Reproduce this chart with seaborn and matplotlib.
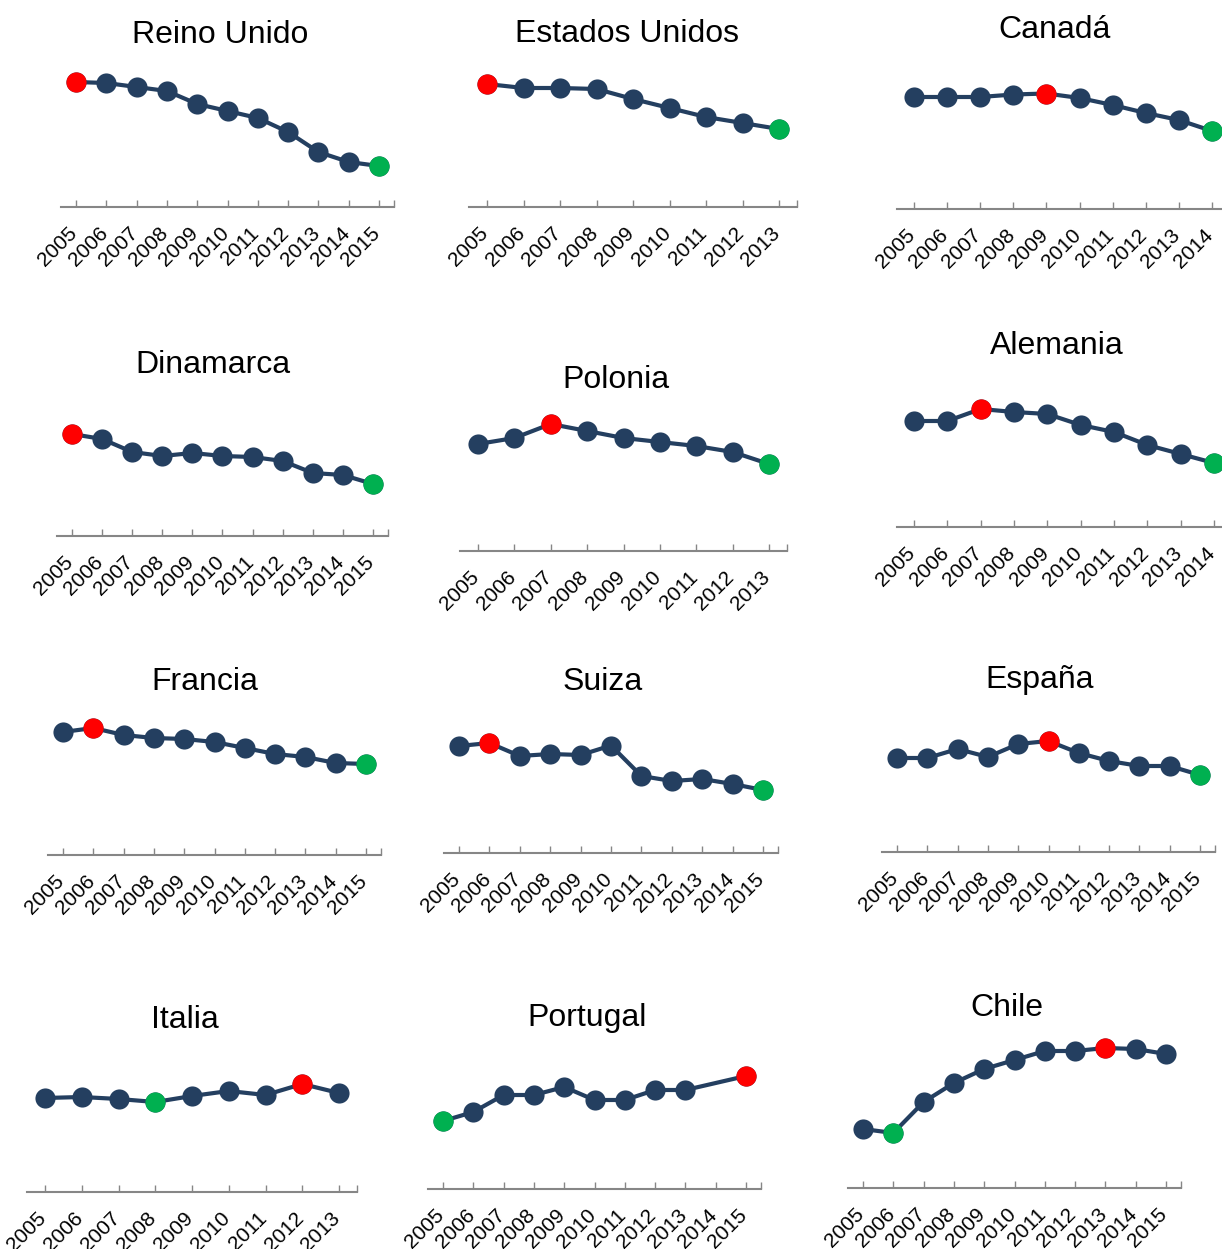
import numpy as np
import pandas as pd
import matplotlib.pyplot as plt
import matplotlib.transforms as mtransforms
import seaborn as sns

# country panels, values (relative index, same scale per panel)
countries = ["Reino Unido", "Estados Unidos", "Canadá",
             "Dinamarca", "Polonia", "Alemania",
             "Francia", "Suiza", "España",
             "Italia", "Portugal", "Chile"]

years_11 = [2005, 2006, 2007, 2008, 2009, 2010, 2011, 2012, 2013, 2014, 2015]
years_10 = years_11[:10]
years_9 = years_11[:9]
years_pt = [2005, 2006, 2007, 2008, 2009, 2010, 2011, 2012, 2013, 2015]

vals_uk = [125, 124, 120, 116, 103, 96, 89, 75, 55, 45, 41]
vals_us = [123, 119, 119, 118, 108, 99, 90, 84, 78]
vals_ca = [112, 112, 112, 114.5, 115.5, 111, 104, 96, 89, 78]
vals_dk = [102, 97, 84, 80, 83, 80, 79, 75, 63, 61, 52]
vals_pl = [107, 113, 127, 120, 113, 109, 105, 99, 87]
vals_de = [106, 106, 118, 115, 113, 102, 95, 82, 73, 64]
vals_fr = [123, 127, 120, 117, 116, 113, 107, 101, 98, 92, 91]
vals_ch = [107, 110, 97, 99, 98, 107.5, 77, 72, 74, 69, 63]
vals_es = [94, 94, 103, 95, 108, 111, 99, 91, 86, 86, 77]
vals_it = [94, 95, 93, 90, 96, 101, 97, 108, 99]
vals_pt = [68, 77, 94, 94, 102, 89, 89, 99, 99, 113]
vals_cl = [59, 55, 86, 105, 119, 128, 137, 137, 140, 139, 134]

data_years = [years_11, years_9, years_10, years_11, years_9, years_10,
              years_11, years_11, years_11, years_9, years_pt, years_11]
data_vals = [vals_uk, vals_us, vals_ca, vals_dk, vals_pl, vals_de,
             vals_fr, vals_ch, vals_es, vals_it, vals_pt, vals_cl]
tick_years = [years_11, years_9, years_10, years_11, years_9, years_10,
              years_11, years_11, years_11, years_9, years_11, years_11]

# panel layout in pixels: title x, title baseline y, first tick x, last tick x, axis y
layout = [
    (220, 43, 76, 379, 207), (627, 42, 487, 779, 207), (1055, 38, 914, 1212, 209),
    (213, 373, 72, 373, 536), (616, 388, 478, 769, 551), (1057, 354, 914, 1214, 527),
    (205, 690, 63, 366, 855), (603, 690, 459, 763, 853), (1040, 688, 897, 1200, 852),
    (185, 1028, 45, 339, 1192), (587, 1026, 443, 746, 1189), (1007, 1016, 863, 1166, 1188),
]

W, H = 1222, 1249
navy = "#243F60"
sns.set_style("white")
plt.rcParams["font.family"] = ["Liberation Sans", "DejaVu Sans"]
plt.rcParams["text.color"] = "black"

fig = plt.figure(figsize=(W / 100, H / 100), dpi=100)
ax_h = 170
# nudge rotated year labels a little to the right, like the original
label_shift = mtransforms.ScaledTranslation(5 / 100, 0, fig.dpi_scale_trans)

for name, yrs, vals, ticks, (tx, ty, x0, x1, ay) in zip(
        countries, data_years, data_vals, tick_years, layout):
    n = len(ticks)
    step = (x1 - x0) / (n - 1)
    left = x0 - step / 2
    ax = fig.add_axes([left / W, 1 - ay / H, n * step / W, ax_h / H])
    df = pd.DataFrame({"year": yrs, "value": vals})
    sns.lineplot(data=df, x="year", y="value", ax=ax, color=navy, linewidth=3,
                 marker="o", markersize=14.5, markeredgewidth=0, clip_on=False)
    hi = df.loc[df["value"].idxmax()]
    lo = df.loc[df["value"].idxmin()]
    ax.scatter([hi["year"]], [hi["value"]], s=14.5 ** 2, color="#FF0000",
               linewidths=0, zorder=5, clip_on=False)
    ax.scatter([lo["year"]], [lo["value"]], s=14.5 ** 2, color="#00B050",
               linewidths=0, zorder=5, clip_on=False)

    ax.set_xlim(ticks[0] - 0.5, ticks[-1] + 0.5)
    ax.set_ylim(0, ax_h)
    ax.set_xticks(ticks + [ticks[-1] + 0.5])
    ax.set_xticklabels([str(t) for t in ticks] + [""], rotation=45, ha="right",
                       fontsize=15)
    ax.tick_params(axis="x", direction="in", length=5, width=1, color="#868686",
                   labelcolor="black", pad=12, bottom=True)
    for tick in ax.xaxis.get_major_ticks():
        tick.label1.set_transform(tick.label1.get_transform() + label_shift)
    ax.set_yticks([])
    ax.set_xlabel("")
    ax.set_ylabel("")
    for s in ["top", "left", "right"]:
        ax.spines[s].set_visible(False)
    ax.spines["bottom"].set_color("#868686")
    ax.spines["bottom"].set_linewidth(1.5)
    ax.patch.set_alpha(0)

    fig.text(tx / W, 1 - ty / H, name, ha="center", va="baseline", fontsize=23,
             color="black")

fig.savefig("out.png", dpi=100)
